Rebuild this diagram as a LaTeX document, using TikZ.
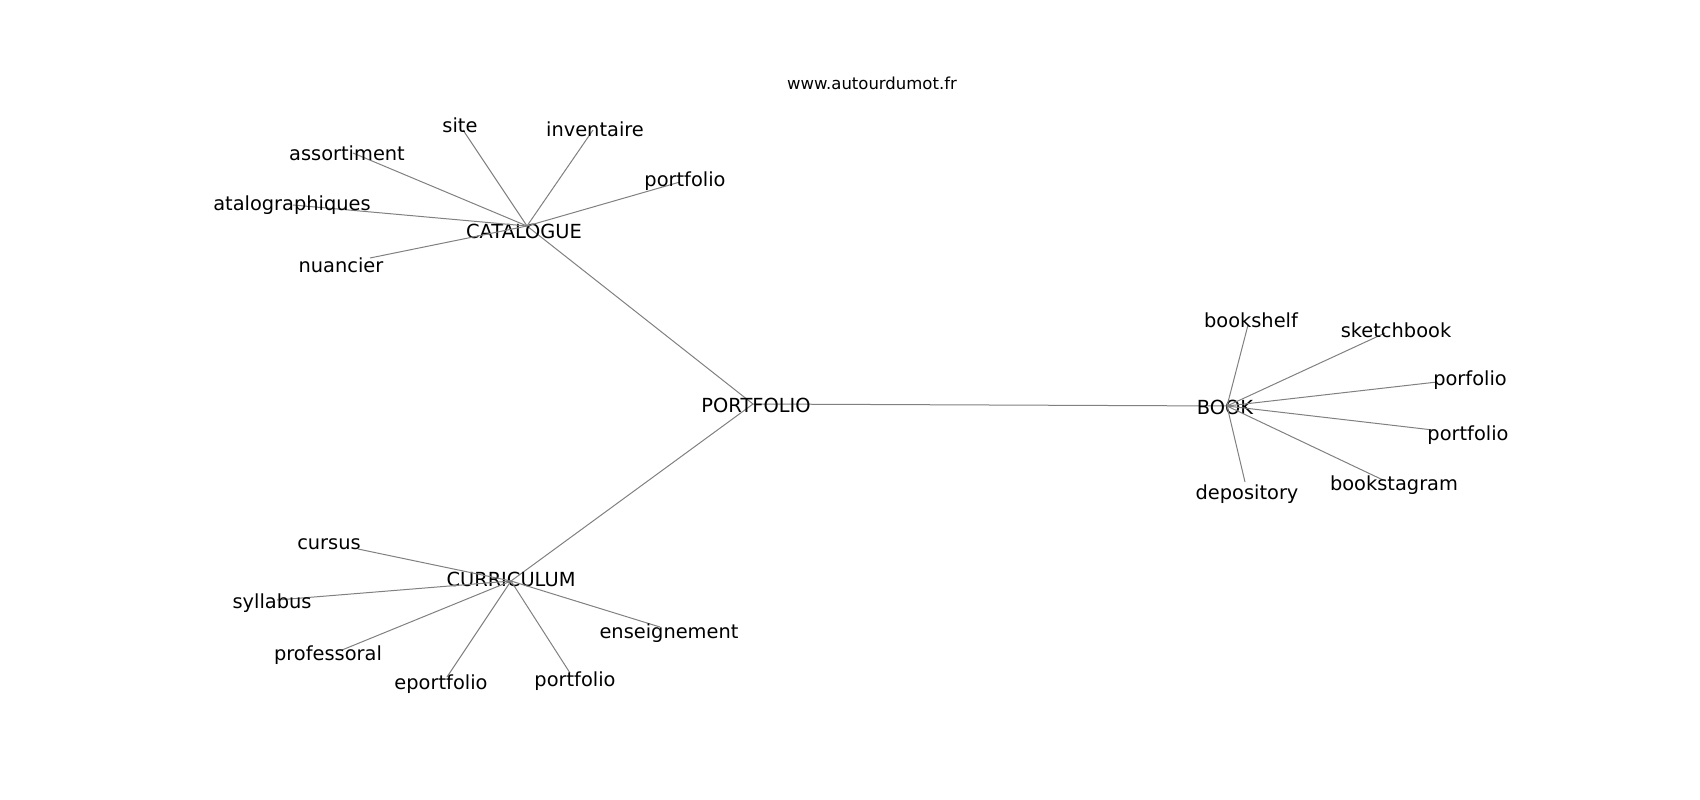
\documentclass[tikz,border=0pt]{standalone}
\usepackage{fontspec}
\setmainfont{DejaVu Sans}
\begin{document}
\begin{tikzpicture}[x=1pt,y=-1pt,
  edge/.style={draw=gray, line width=1pt},
  word/.style={font=\fontsize{19.4}{21}\selectfont, inner sep=0pt, yshift=-2pt}]
\useasboundingbox (0,0) rectangle (1700,800);
\node [font=\fontsize{16.5}{18}\selectfont] (site-url) at (872,83) {www.autourdumot.fr};
% hubs
\coordinate (portfolio) at (753,404);
\coordinate (catalogue) at (527,226);
\coordinate (book) at (1227,406);
\coordinate (curriculum) at (511,581);
\draw [edge] (portfolio) -- (catalogue);
\draw [edge] (portfolio) -- (book);
\draw [edge] (portfolio) -- (curriculum);
\node [word] (portfolio-l) at (756,403) {PORTFOLIO};
\node [word] (catalogue-l) at (524,229) {CATALOGUE};
\node [word] (book-l) at (1225,405) {BOOK};
\node [word] (curriculum-l) at (511,577) {CURRICULUM};
% leaves
\foreach \n/\t/\ex/\ey/\lx/\ly in {cat1/site/463/130/460/123,
  cat2/inventaire/593/130/595/127, cat3/portfolio/680/182/685/179,
  cat4/assortiment/353/153/347/151, cat5/atalographiques/293/205/292/203,
  cat6/nuancier/370/258/341/263}{
  \coordinate (\n) at (\ex,\ey);
  \draw [edge] (catalogue) -- (\n);
  \node [word] (\n-l) at (\lx,\ly) {\t};
}
\foreach \n/\t/\ex/\ey/\lx/\ly in {book1/bookshelf/1248/325/1251/318,
  book2/sketchbook/1385/333/1396/328, book3/porfolio/1437/382/1470/378,
  book4/portfolio/1433/430/1468/433, book5/bookstagram/1383/480/1394/483,
  book6/depository/1245/482/1247/492}{
  \coordinate (\n) at (\ex,\ey);
  \draw [edge] (book) -- (\n);
  \node [word] (\n-l) at (\lx,\ly) {\t};
}
\foreach \n/\t/\ex/\ey/\lx/\ly in {cur1/cursus/358/549/329/542,
  cur2/syllabus/277/600/272/601, cur3/professoral/342/650/328/653,
  cur4/eportfolio/447/677/441/682, cur5/portfolio/570/673/575/679,
  cur6/enseignement/660/627/669/631}{
  \coordinate (\n) at (\ex,\ey);
  \draw [edge] (curriculum) -- (\n);
  \node [word] (\n-l) at (\lx,\ly) {\t};
}
\end{tikzpicture}
\end{document}
